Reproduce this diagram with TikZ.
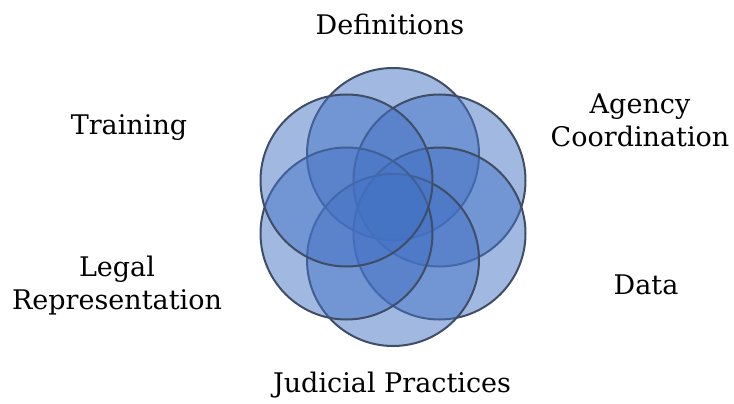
\documentclass[tikz,border=0pt]{standalone}
\usepackage{fontspec}
\setmainfont{DejaVu Serif}
\definecolor{petal}{HTML}{4472C4}
\definecolor{rim}{HTML}{3F4E66}
\begin{document}
\begin{tikzpicture}[x=1pt,y=-1pt,
  petalstyle/.style={circle,minimum size=172pt,inner sep=0pt,
    fill=petal,fill opacity=0.5,draw=rim,line width=2pt},
  labelstyle/.style={font=\fontsize{27}{33}\selectfont,align=center,
    text=black,inner sep=0pt}]
\useasboundingbox (0,0) rectangle (734,404);
\coordinate (c) at (393,207);
% six overlapping petals around the centre
\node[petalstyle] (p1) at (393,154) {};
\node[petalstyle] (p2) at (439.5,180.5) {};
\node[petalstyle] (p3) at (439.5,233.5) {};
\node[petalstyle] (p4) at (393,260) {};
\node[petalstyle] (p5) at (346.5,233.5) {};
\node[petalstyle] (p6) at (346.5,180.5) {};
% labels
\node[labelstyle] (l1) at (390,24) {Definitions};
\node[labelstyle] (l2) at (640,120) {Agency\\Coordination};
\node[labelstyle] (l3) at (646,285) {Data};
\node[labelstyle] (l4) at (392,385) {Judicial Practices};
\node[labelstyle] (l5) at (117,286) {Legal\\Representation};
\node[labelstyle] (l6) at (129,128) {Training};
\end{tikzpicture}
\end{document}
